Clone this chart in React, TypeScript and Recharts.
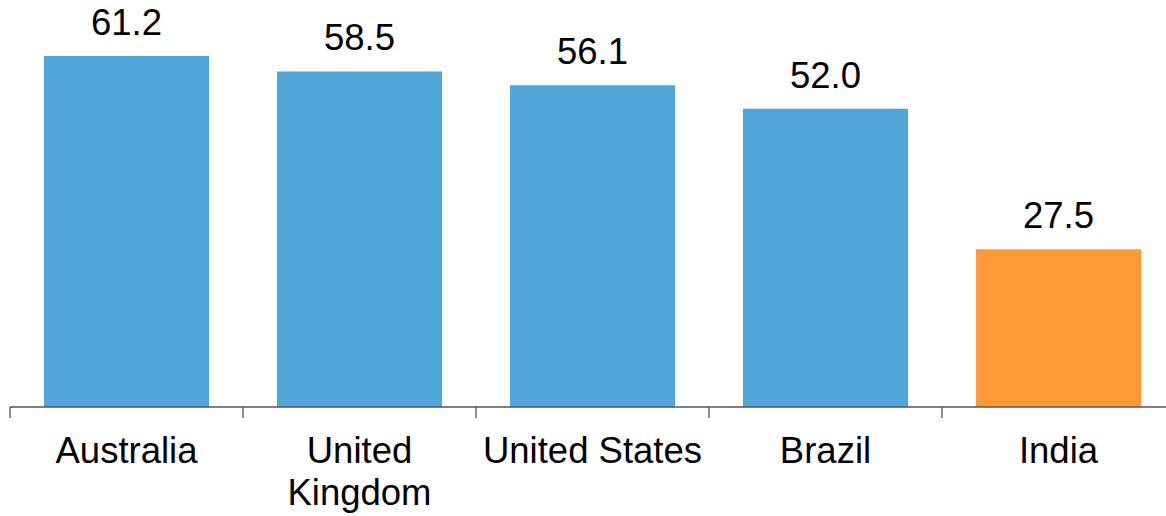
import React from "react";
import { BarChart, Bar, XAxis, YAxis, Cell, LabelList } from "recharts";

const countries = ["Australia", "United Kingdom", "United States", "Brazil", "India"];
const scores = [61.2, 58.5, 56.1, 52.0, 27.5];
const highlighted = ["India"];

const chartData = countries.map((name, i) => ({ name, value: scores[i] }));

const BLUE = "#4FA6D9";
const ORANGE = "#FF9A36";
const FONT = "'Liberation Sans', Arial, sans-serif";
const BAND = 233;

// two-line labels for long names, plus a tick mark at the left edge of each band
const CountryTick = ({ x, y, payload }: any) => {
  const label: string = payload.value;
  const lines = label === "United Kingdom" ? ["United", "Kingdom"] : [label];
  const left = x - BAND / 2;
  return (
    <g>
      <line x1={left} y1={y} x2={left} y2={y + 11} stroke="#555" strokeWidth={1.3} />
      <text x={x} y={y + 56} textAnchor="middle" fontSize={36.5} fontFamily={FONT} fill="#000">
        {lines.map((l, i) => (
          <tspan key={i} x={x} dy={i === 0 ? 0 : 42}>
            {l}
          </tspan>
        ))}
      </text>
    </g>
  );
};

export default function App() {
  return (
    <div style={{ position: "absolute", left: 0, top: 0, width: 1166, height: 516, overflow: "hidden", background: "#fff" }}>
      <BarChart
        width={1175}
        height={516}
        data={chartData}
        margin={{ top: 17, right: 0, bottom: 79, left: 10 }}
      >
        <XAxis
          dataKey="name"
          interval={0}
          tickLine={false}
          tickSize={0}
          tickMargin={0}
          axisLine={{ stroke: "#555", strokeWidth: 1.3 }}
          tick={<CountryTick />}
        />
        <YAxis hide domain={[0, 68]} />
        <Bar dataKey="value" barSize={165} isAnimationActive={false}>
          {chartData.map((d) => (
            <Cell key={d.name} fill={highlighted.includes(d.name) ? ORANGE : BLUE} />
          ))}
          <LabelList
            dataKey="value"
            position="top"
            offset={21}
            formatter={(v: any) => Number(v).toFixed(1)}
            style={{ fontSize: 36.5, fontFamily: FONT, fill: "#000" }}
          />
        </Bar>
      </BarChart>
    </div>
  );
}
